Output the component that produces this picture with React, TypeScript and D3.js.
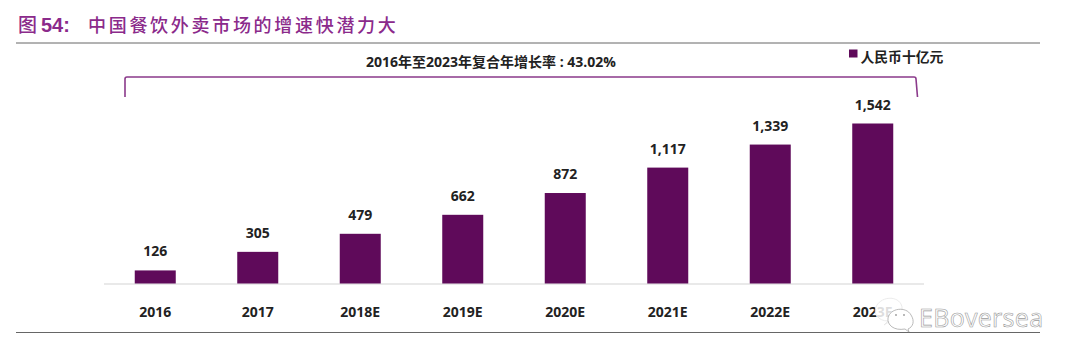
import React from "react";
import * as d3 from "d3";

const categories = ["2016", "2017", "2018E", "2019E", "2020E", "2021E", "2022E", "2023E"];
const values = [126, 305, 479, 662, 872, 1117, 1339, 1542];
const titlePrefix = "图";
const titleNumber = "54:";
const titleText = "中国餐饮外卖市场的增速快潜力大";
const cagrText = "2016年至2023年复合年增长率 : 43.02%";
const legendText = "人民币十亿元";
const watermark = "EBoversea";

const W = 1080, H = 362;
const purple = "#5F0A5A";
const titleColor = "#8B2A8B";
const cjk = "'Noto Sans CJK SC', sans-serif";
const latin = "'Open Sans', 'Noto Sans CJK SC', sans-serif";

const x = d3.scaleBand<string>().domain(categories).range([104, 924]).paddingInner(0.6).paddingOuter(0.3);
const y = d3.scaleLinear().domain([0, 1542]).range([283.5, 123.5]);

export default function App() {
  return (
    <svg width={W} height={H} viewBox={`0 0 ${W} ${H}`} style={{ position: "absolute", left: 0, top: 0, background: "#fff" }}>
      <text x={18} y={32} fontFamily={cjk} fontSize={19} fontWeight={500} fill={titleColor}>{titlePrefix}</text>
      <text x={41} y={32} fontFamily="'Liberation Sans', Arial, sans-serif" fontSize={20} fontWeight={700} fill={titleColor}>{titleNumber}</text>
      <text x={88} y={32} fontFamily={cjk} fontSize={18} fontWeight={500} letterSpacing={2.7} fill={titleColor}>{titleText}</text>
      <line x1={16} x2={1040} y1={43} y2={43} stroke="#666" strokeWidth={1} />
      <line x1={16} x2={1040} y1={332.5} y2={332.5} stroke="#666" strokeWidth={1} />

      <text x={491} y={67} textAnchor="middle" fontFamily={latin} fontSize={14} fontWeight={700} fill="#222">{cagrText}</text>
      <path d="M125 97 V79 Q125 77 127 77 H914 Q916 77 916 79 L917.5 97" fill="none" stroke="#8B3A8B" strokeWidth={1.6} />

      <rect x={849} y={49.5} width={8.5} height={8} fill={purple} />
      <text x={860.5} y={61.5} fontFamily={cjk} fontSize={13.8} fontWeight={700} fill="#222">{legendText}</text>

      <line x1={104} x2={924} y1={284} y2={284} stroke="#E2E2E2" strokeWidth={1.5} />
      {categories.map((c, i) => (
        <g key={c}>
          <rect x={x(c)!} y={y(values[i])} width={x.bandwidth()} height={y(0) - y(values[i])} fill={purple} />
          <text x={x(c)! + x.bandwidth() / 2} y={y(values[i]) - 14} textAnchor="middle" fontFamily={latin} fontSize={14} fontWeight={700} fill="#222">{d3.format(",")(values[i])}</text>
          <text x={x(c)! + x.bandwidth() / 2} y={317} textAnchor="middle" fontFamily={latin} fontSize={14} fontWeight={700} fill="#222">{c}</text>
        </g>
      ))}

      <g stroke="#bdbdbd" strokeWidth={0.8}>
        <path d="M888 321 C878 321 873 313 876 307 C880 297 896 295 901 304 C904 310 901 318 892 320 L884 325 Z" fill="#fff" fillOpacity={0.85} stroke="#e6e6e6" />
        <path d="M909 332 L905 329 C894 331 887 325 888 318 C890 308 906 306 911 315 C915 321 913 327 908 329 Z" fill="#fff" fillOpacity={0.9} stroke="#a8a8a8" />
        <circle cx={896} cy={315} r={0.9} fill="#999" stroke="none" />
        <circle cx={904} cy={315} r={0.9} fill="#999" stroke="none" />
      </g>
      <text x={919} y={327} fontFamily={latin} fontSize={25} letterSpacing={0.3} fill="#fff" stroke="#9a9a9a" strokeWidth={0.6}>{watermark}</text>
    </svg>
  );
}
